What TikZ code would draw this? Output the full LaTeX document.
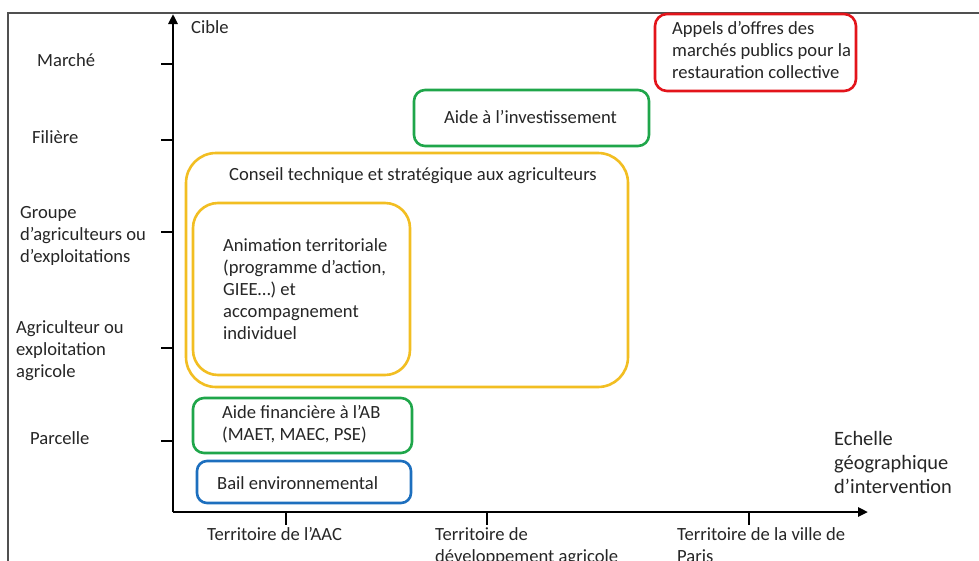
\documentclass[tikz,border=0pt]{standalone}
\usepackage{fontspec}
\setmainfont{Carlito}
\usetikzlibrary{arrows.meta}
\definecolor{txtc}{HTML}{262626}
\definecolor{yel}{HTML}{F2BE22}
\definecolor{grn}{HTML}{1FA64A}
\definecolor{redc}{HTML}{E3141B}
\definecolor{blu}{HTML}{1D6FBE}
\definecolor{framec}{HTML}{505050}
\tikzset{
  txt/.style={anchor=base west, inner sep=0pt, align=left, text=txtc,
    font=\fontsize{18.6}{22}\selectfont},
  bigtxt/.style={txt, font=\fontsize{20.4}{24}\selectfont},
  box/.style={draw=#1, line width=2.6pt, rectangle, inner sep=0pt},
  axis/.style={line width=2.8pt, black},
  tick/.style={line width=2.4pt, black},
  frameline/.style={line width=1.2pt, framec},
}
\begin{document}
\begin{tikzpicture}[x=1pt, y=-1pt]
\useasboundingbox (0,0) rectangle (979,560);
\clip (0,0) rectangle (979,560);
\fill[white] (0,0) rectangle (979,560);
\draw[frameline] (8,570) -- (8,13) -- (990,13);

% boxes
\node[box=yel, rounded corners=30pt, minimum width=442pt, minimum height=234pt] (conseil) at (407,270) {};
\node[box=yel, rounded corners=25pt, minimum width=217pt, minimum height=172pt] (anim) at (301.5,289) {};
\node[box=redc, rounded corners=12pt, minimum width=201pt, minimum height=77pt] (appels) at (755.5,52.5) {};
\node[box=grn, rounded corners=11pt, minimum width=235pt, minimum height=56pt] (invest) at (531.5,118) {};
\node[box=grn, rounded corners=11pt, minimum width=219pt, minimum height=55pt] (fin) at (302.5,425.5) {};
\node[box=blu, rounded corners=10pt, minimum width=214pt, minimum height=42pt] (bail) at (304,482) {};

% box texts (anchor = baseline of the last line)
\node[txt] (appelst) at (672,78) {Appels d’offres des\\marchés publics pour la\\restauration collective};
\node[txt] (investt) at (444,123) {Aide à l’investissement};
\node[txt] (conseilt) at (229,180) {Conseil technique et stratégique aux agriculteurs};
\node[txt] (animt) at (223,339) {Animation territoriale\\(programme d’action,\\GIEE…) et\\accompagnement\\individuel};
\node[txt] (fint) at (222,440) {Aide financière à l’AB\\(MAET, MAEC, PSE)};
\node[txt] (bailt) at (217,489) {Bail environnemental};

% axes
\coordinate (o) at (173,512);
\coordinate (ytop) at (173,14);
\coordinate (xend) at (868,512);
\draw[axis, -{Triangle[length=10pt, width=9pt]}] (o) -- (ytop);
\draw[axis, -{Triangle[length=10pt, width=9pt]}] (o) -- (xend);

% y ticks
\foreach \yy/\nm in {64/ta, 140/tb, 232/tc, 348/td, 441/te}{
  \coordinate (\nm1) at (161,\yy);
  \coordinate (\nm2) at (173,\yy);
  \draw[tick] (\nm1) -- (\nm2);
}
% x ticks
\foreach \xx/\nm in {286/ua, 487/ub, 749/uc}{
  \coordinate (\nm1) at (\xx,512);
  \coordinate (\nm2) at (\xx,525);
  \draw[tick] (\nm1) -- (\nm2);
}

% axis labels
\node[txt] (cible) at (191,33) {Cible};
\node[txt] (marche) at (37,66) {Marché};
\node[txt] (filiere) at (32,143) {Filière};
\node[txt] (groupe) at (20,262) {Groupe\\d’agriculteurs ou\\d’exploitations};
\node[txt] (agri) at (16,377) {Agriculteur ou\\exploitation\\agricole};
\node[txt] (parcelle) at (30,444) {Parcelle};

\node[txt] (aac) at (207,540) {Territoire de l’AAC};
\node[txt] (dev) at (435,562) {Territoire de\\développement agricole};
\node[txt] (paris) at (677,562) {Territoire de la ville de\\Paris};
\node[bigtxt] (echelle) at (834,493) {Echelle\\géographique\\d’intervention};
\end{tikzpicture}
\end{document}
